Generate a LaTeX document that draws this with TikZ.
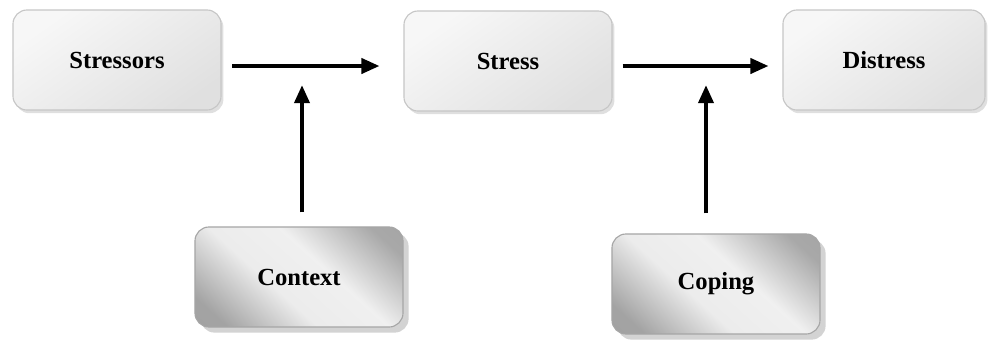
\documentclass[tikz,border=0pt]{standalone}
\usepackage{fontspec}
\setmainfont{Liberation Serif}
\usetikzlibrary{arrows.meta,shadows}
\pgfdeclareverticalshading{band}{100bp}{color(0bp)=(gray!75); color(22bp)=(gray!72); color(42bp)=(gray!15); color(58bp)=(gray!12); color(78bp)=(gray!68); color(100bp)=(gray!75)}
\tikzset{
  lightbox/.style={rectangle,rounded corners=0.35cm,draw=gray!45,line width=0.8pt,
    minimum width=5.2cm,minimum height=2.5cm,top color=gray!6,bottom color=gray!24,
    shading angle=35,drop shadow={shadow xshift=0.06cm,shadow yshift=-0.08cm,opacity=0.25,fill=gray},
    font=\fontsize{17.5}{20}\selectfont\bfseries},
  darkbox/.style={rectangle,rounded corners=0.35cm,draw=gray!70,line width=0.8pt,
    minimum width=5.2cm,minimum height=2.5cm,shading=band,shading angle=-42,
    drop shadow={shadow xshift=0.14cm,shadow yshift=-0.14cm,opacity=0.35,fill=gray},
    font=\fontsize{17.5}{20}\selectfont\bfseries},
  flow/.style={line width=2.5pt,-{Triangle[length=0.45cm,width=0.38cm]}}
}
\begin{document}
\begin{tikzpicture}[x=0.025cm,y=-0.025cm]
  \useasboundingbox (0,0) rectangle (996,343);
  \node[lightbox] (stressors) at (117,60) {Stressors};
  \node[lightbox] (stress) at (508,61) {Stress};
  \node[lightbox,minimum width=5.05cm] (distress) at (884,60) {Distress};
  \node[darkbox] (context) at (299,277) {Context};
  \node[darkbox] (coping) at (716,284) {Coping};
  \coordinate (meetA) at (302,66);
  \coordinate (meetB) at (706,66);
  \draw[flow,shorten <=0.27cm,shorten >=0.6cm] ([yshift=-0.15cm]stressors.east) -- ([yshift=-0.15cm]stressors.east -| stress.west);
  \draw[flow,shorten <=0.25cm,shorten >=0.35cm] ([yshift=-0.15cm]stressors.east -| stress.east) -- ([yshift=-0.15cm]stressors.east -| distress.west);
  \draw[flow,shorten <=0.35cm,shorten >=0.48cm] (context.north -| meetA) -- (meetA);
  \draw[flow,shorten <=0.5cm,shorten >=0.48cm] (coping.north -| meetB) -- (meetB);
\end{tikzpicture}
\end{document}
